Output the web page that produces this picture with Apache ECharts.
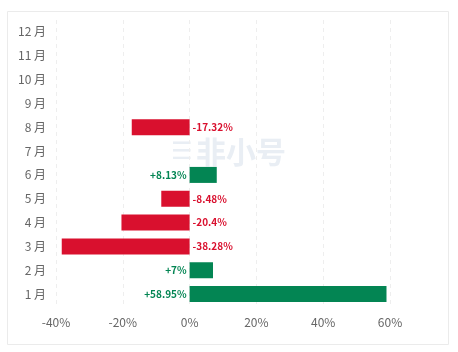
<!DOCTYPE html>
<html>
<head>
<meta charset="utf-8">
<script src="https://cdn.jsdelivr.net/npm/echarts@6/dist/echarts.min.js"></script>
<style>
  html, body { margin: 0; padding: 0; background: #fff; }
  #chart { width: 458px; height: 352px; }
</style>
</head>
<body>
<div id="chart"></div>
<script>
let months = ['1 月', '2 月', '3 月', '4 月', '5 月', '6 月', '7 月', '8 月', '9 月', '10 月', '11 月', '12 月']
let changes = [58.95, 7, -38.28, -20.4, -8.48, 8.13, null, -17.32, null, null, null, null]
let xTicks = [-40, -20, 0, 20, 40, 60]

const upColor = '#038553'
const downColor = '#d9102e'

let chartDom = document.getElementById('chart');
let myChart = echarts.init(chartDom);

let barData = []
for (const v of changes) {
    if (v === null) {
        barData.push(null)
        continue
    }
    let c = v >= 0 ? upColor : downColor
    barData.push({
        value: v,
        itemStyle: {color: c},
        label: {
            show: true,
            position: v >= 0 ? 'left' : 'right',
            color: c,
            formatter: (v >= 0 ? '+' : '') + v + '%'
        }
    })
}

let option = {
    animation: false,
    textStyle: {
        fontFamily: 'Noto Sans CJK SC'
    },
    graphic: [{
        type: 'rect',
        shape: {x: 7.5, y: 11.5, width: 441, height: 333},
        style: {fill: 'none', stroke: '#ebebeb', lineWidth: 1},
        silent: true
    }, {
        type: 'text',
        left: 196,
        top: 137,
        style: {
            text: '非小号',
            fill: '#e9eef4',
            font: 'bold 30px "Noto Sans CJK SC"'
        },
        z: -1,
        silent: true
    }, {
        type: 'text',
        left: 171,
        top: 141,
        style: {
            text: '☰',
            fill: '#e9eef4',
            font: 'bold 24px "DejaVu Sans"'
        },
        z: -1,
        silent: true
    }],
    grid: {
        left: 56,
        right: 68,
        top: 20,
        bottom: 46
    },
    xAxis: {
        type: 'value',
        min: -40,
        max: 60,
        interval: 20,
        axisLine: {show: false},
        axisTick: {show: false},
        axisLabel: {
            color: '#666',
            fontSize: 12,
            margin: 10,
            formatter: function (v) {
                return xTicks.includes(v) ? v + '%' : ''
            }
        },
        splitLine: {
            show: true,
            lineStyle: {color: '#eee', type: [4, 4]}
        }
    },
    yAxis: {
        type: 'category',
        data: months,
        axisLine: {show: false},
        axisTick: {show: false},
        axisLabel: {
            color: '#666',
            fontSize: 12,
            margin: 10
        }
    },
    series: [{
        type: 'bar',
        data: barData,
        barWidth: 16,
        label: {
            fontSize: 10,
            fontWeight: 'bold',
            distance: 3
        }
    }]
};
option && myChart.setOption(option);
</script>
</body>
</html>
